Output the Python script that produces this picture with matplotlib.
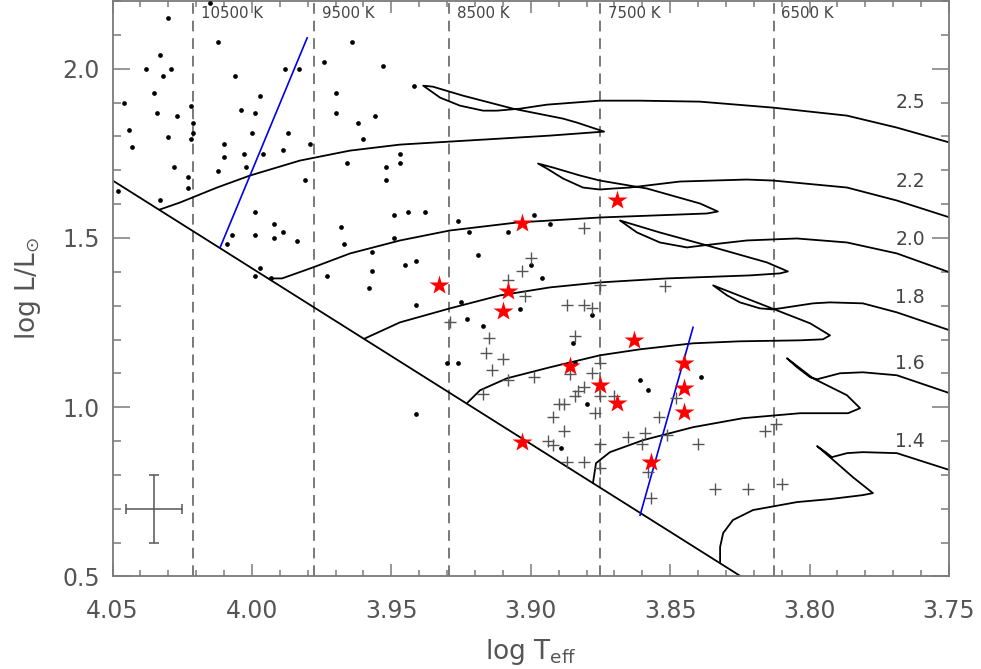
import numpy as np
import matplotlib
matplotlib.use("Agg")
import matplotlib.pyplot as plt

# ---------------- data (log Teff, log L/Lsun) ----------------
dots_teff = [4.030, 4.012, 4.015, 3.964, 4.038, 4.029, 4.033, 4.032, 4.006, 3.988,
             3.983, 3.974, 3.953, 4.035, 4.046, 4.022, 3.997, 4.004, 3.999, 4.034,
             4.027, 3.970, 3.970, 3.942, 4.044, 4.030, 4.021, 4.021, 4.022, 4.043,
             4.000, 3.987, 3.979, 3.962, 3.956, 3.960, 4.010, 4.010, 4.003, 3.996,
             3.989, 4.002, 4.012, 4.028, 4.023, 4.023, 4.048, 3.981, 3.966, 3.952,
             3.947, 3.947, 3.952, 4.033, 3.999, 3.992, 3.989, 3.992, 3.999, 4.007,
             4.009, 3.984, 3.968, 3.967, 3.949, 3.944, 3.938, 3.949, 3.957, 3.957,
             3.958, 3.945, 3.941, 3.973, 3.997, 3.999, 3.993, 3.926, 3.922, 3.908,
             3.899, 3.893, 3.919, 3.900, 3.896, 3.941, 3.925, 3.904, 3.923, 3.917,
             3.878, 3.885, 3.930, 3.926, 3.884, 3.941, 3.880, 3.889, 3.861, 3.858,
             3.839]
dots_logl = [2.150, 2.080, 2.195, 2.080, 2.000, 2.000, 2.041, 1.979, 1.979, 2.000,
             2.000, 2.021, 2.009, 1.929, 1.900, 1.891, 1.920, 1.879, 1.870, 1.870,
             1.861, 1.929, 1.870, 1.950, 1.820, 1.799, 1.841, 1.811, 1.791, 1.770,
             1.811, 1.811, 1.779, 1.841, 1.861, 1.791, 1.779, 1.740, 1.749, 1.749,
             1.761, 1.711, 1.699, 1.711, 1.679, 1.649, 1.640, 1.670, 1.720, 1.711,
             1.749, 1.720, 1.670, 1.611, 1.578, 1.540, 1.519, 1.501, 1.510, 1.510,
             1.481, 1.490, 1.531, 1.481, 1.569, 1.578, 1.578, 1.501, 1.460, 1.401,
             1.351, 1.419, 1.431, 1.389, 1.410, 1.389, 1.381, 1.549, 1.519, 1.519,
             1.569, 1.540, 1.451, 1.419, 1.381, 1.301, 1.310, 1.289, 1.260, 1.239,
             1.271, 1.189, 1.130, 1.130, 1.130, 0.979, 1.009, 0.879, 1.080, 1.050,
             1.088]

plus_teff = [3.881, 3.900, 3.903, 3.908, 3.902, 3.875, 3.852, 3.887, 3.881, 3.878,
             3.929, 3.915, 3.884, 3.916, 3.910, 3.914, 3.908, 3.899, 3.886, 3.878,
             3.875, 3.917, 3.881, 3.883, 3.884, 3.875, 3.870, 3.890, 3.888, 3.877,
             3.892, 3.888, 3.894, 3.892, 3.875, 3.887, 3.881, 3.875, 3.865, 3.859,
             3.860, 3.851, 3.840, 3.854, 3.848, 3.858, 3.857, 3.834, 3.822, 3.816,
             3.812, 3.810]
plus_logl = [1.528, 1.440, 1.401, 1.375, 1.330, 1.360, 1.357, 1.301, 1.301, 1.292,
             1.251, 1.204, 1.209, 1.159, 1.142, 1.109, 1.080, 1.088, 1.097, 1.100,
             1.130, 1.038, 1.059, 1.047, 1.032, 1.032, 1.032, 1.009, 1.009, 0.982,
             0.971, 0.929, 0.900, 0.888, 0.891, 0.838, 0.838, 0.820, 0.912, 0.923,
             0.891, 0.917, 0.891, 0.971, 1.027, 0.808, 0.732, 0.758, 0.758, 0.929,
             0.950, 0.773]

star_teff = [3.869, 3.903, 3.933, 3.908, 3.910, 3.863, 3.886, 3.845, 3.875, 3.869,
             3.845, 3.845, 3.903, 3.857]
star_logl = [1.611, 1.543, 1.360, 1.342, 1.283, 1.198, 1.121, 1.130, 1.065, 1.012,
             1.056, 0.985, 0.897, 0.838]

# evolutionary tracks
track_25_teff = [4.0330, 4.0258, 4.0125, 4.0007, 3.9828, 3.9648, 3.9469, 3.9290, 3.9110, 3.8931,
                 3.8787, 3.8737, 3.8834, 3.8884, 3.9064, 3.9243, 3.9351, 3.9386, 3.9325, 3.9254,
                 3.9171, 3.9121, 3.9038, 3.8942, 3.8752, 3.8608, 3.8393, 3.8131, 3.7866, 3.7687,
                 3.7497]
track_25_logl = [1.5841, 1.6047, 1.6490, 1.6844, 1.7286, 1.7581, 1.7758, 1.7847, 1.7935, 1.8024,
                 1.8112, 1.8142, 1.8407, 1.8525, 1.8820, 1.9204, 1.9469, 1.9499, 1.9145, 1.8909,
                 1.8761, 1.8761, 1.8820, 1.8938, 1.9056, 1.9056, 1.9027, 1.8850, 1.8614, 1.8260,
                 1.7817]
track_22_teff = [3.9935, 3.9892, 3.9781, 3.9648, 3.9469, 3.9290, 3.9049, 3.8752, 3.8465, 3.8368,
                 3.8329, 3.8393, 3.8583, 3.8752, 3.8823, 3.8920, 3.8974, 3.8942, 3.8884, 3.8813,
                 3.8752, 3.8705, 3.8644, 3.8465, 3.8225, 3.8131, 3.7866, 3.7687, 3.7497]
track_22_logl = [1.3805, 1.3805, 1.4130, 1.4543, 1.4926, 1.5221, 1.5457, 1.5605, 1.5693, 1.5723,
                 1.5782, 1.6018, 1.6460, 1.6696, 1.6844, 1.7080, 1.7198, 1.7050, 1.6755, 1.6490,
                 1.6431, 1.6460, 1.6490, 1.6667, 1.6726, 1.6696, 1.6490, 1.6106, 1.5605]
track_20_teff = [3.9594, 3.9469, 3.9290, 3.9110, 3.8931, 3.8752, 3.8512, 3.8214, 3.8107, 3.8078,
                 3.8153, 3.8368, 3.8537, 3.8680, 3.8619, 3.8537, 3.8440, 3.8383, 3.8225, 3.8046,
                 3.7866, 3.7687, 3.7497]
track_20_logl = [1.2035, 1.2507, 1.2920, 1.3304, 1.3540, 1.3687, 1.3805, 1.3894, 1.3953, 1.4012,
                 1.4277, 1.4779, 1.5162, 1.5516, 1.5162, 1.4867, 1.4720, 1.4779, 1.4926, 1.4985,
                 1.4867, 1.4543, 1.3982]
track_18_teff = [3.9229, 3.9182, 3.9085, 3.8931, 3.8752, 3.8608, 3.8418, 3.8250, 3.8034, 3.7952,
                 3.7927, 3.7998, 3.8117, 3.8346, 3.8296, 3.8250, 3.8178, 3.8135, 3.8106, 3.7988,
                 3.7927, 3.7809, 3.7687, 3.7497]
track_18_logl = [1.0118, 1.0501, 1.0855, 1.1180, 1.1534, 1.1711, 1.1888, 1.1947, 1.1976, 1.2006,
                 1.2124, 1.2478, 1.2861, 1.3599, 1.3304, 1.3097, 1.2920, 1.2891, 1.2920, 1.3068,
                 1.3097, 1.3068, 1.2802, 1.2271]
track_16_teff = [3.8777, 3.8766, 3.8716, 3.8597, 3.8418, 3.8239, 3.8034, 3.7862, 3.7819, 3.7866,
                 3.7988, 3.8081, 3.8045, 3.7998, 3.7973, 3.7891, 3.7809, 3.7687, 3.7497]
track_16_logl = [0.7758, 0.8348, 0.8673, 0.9027, 0.9410, 0.9676, 0.9823, 0.9823, 0.9971, 1.0354,
                 1.0855, 1.1445, 1.1180, 1.0885, 1.0826, 1.1003, 1.1032, 1.0944, 1.0413]
track_14_teff = [3.8321, 3.8321, 3.8310, 3.8275, 3.8203, 3.8045, 3.7927, 3.7809, 3.7773, 3.7845,
                 3.7927, 3.7973, 3.7938, 3.7920, 3.7866, 3.7809, 3.7687, 3.7497]
track_14_logl = [0.5428, 0.5870, 0.6283, 0.6667, 0.6962, 0.7198, 0.7286, 0.7404, 0.7463, 0.7935,
                 0.8525, 0.8850, 0.8643, 0.8525, 0.8643, 0.8673, 0.8643, 0.8142]

track_masses = ["2.5", "2.2", "2.0", "1.8", "1.6", "1.4"]
track_label_logl = [1.900, 1.667, 1.495, 1.325, 1.128, 0.900]
track_label_teff = 3.764

zams_teff = [4.05, 3.824]
zams_logl = [1.670, 0.497]

blue1_teff = [4.0114, 3.9802]
blue1_logl = [1.472, 2.091]
blue2_teff = [3.8608, 3.8418]
blue2_logl = [0.681, 1.236]

temps_k = [10500, 9500, 8500, 7500, 6500]
temp_labels = ["10500 K", "9500 K", "8500 K", "7500 K", "6500 K"]

err_teff, err_logl = 4.035, 0.70
err_dteff, err_dlogl = 0.01, 0.10

# ---------------- figure ----------------
GRAY = "#7a7a7a"
fig = plt.figure(figsize=(9.81, 6.69), dpi=100)
ax = fig.add_axes([0.1147, 0.1383, 0.8527, 0.8602])

ax.set_xlim(4.05, 3.75)
ax.set_ylim(0.5, 2.2)

# dashed isotherms
for tk, lab in zip(temps_k, temp_labels):
    lt = np.log10(tk)
    ax.axvline(lt, color="#555555", lw=1.1, dashes=(7, 4.5), zorder=1)
    ax.text(lt - 0.0028, 2.163, lab, ha="left", va="center", fontsize=10.8,
            color="#444444")

# tracks
tracks = [(track_25_teff, track_25_logl), (track_22_teff, track_22_logl),
          (track_20_teff, track_20_logl), (track_18_teff, track_18_logl),
          (track_16_teff, track_16_logl), (track_14_teff, track_14_logl)]
for tt, ll in tracks:
    ax.plot(tt, ll, color="black", lw=1.3, zorder=2, solid_joinstyle="round")

ax.plot(zams_teff, zams_logl, color="black", lw=1.3, zorder=2)

for m, yl in zip(track_masses, track_label_logl):
    ax.text(track_label_teff, yl, m, ha="center", va="center", fontsize=13.5,
            color="#444444")

# instability strip edges
ax.plot(blue1_teff, blue1_logl, color="#0000ee", lw=1.2, zorder=3)
ax.plot(blue2_teff, blue2_logl, color="#0000ee", lw=1.2, zorder=3)

# stars
ax.plot(dots_teff, dots_logl, "o", color="black", ms=3.4, mec="none", zorder=4)
ax.plot(plus_teff, plus_logl, "+", color="#555555", ms=9, mew=1.0, zorder=4)
ax.plot(star_teff, star_logl, "*", color="#ff0000", ms=15, mec="none", zorder=5)

# typical error bar
ax.errorbar(err_teff, err_logl, xerr=err_dteff, yerr=err_dlogl, fmt="none",
            ecolor="#555555", elinewidth=1.1, capsize=3.5, capthick=1.1)

# axes styling
ax.set_xticks([4.05, 4.00, 3.95, 3.90, 3.85, 3.80, 3.75])
ax.set_xticklabels(["4.05", "4.00", "3.95", "3.90", "3.85", "3.80", "3.75"])
ax.set_xticks(np.arange(3.75, 4.0501, 0.01), minor=True)
ax.set_yticks([0.5, 1.0, 1.5, 2.0])
ax.set_yticklabels(["0.5", "1.0", "1.5", "2.0"])
ax.set_yticks(np.arange(0.5, 2.21, 0.1), minor=True)

ax.tick_params(axis="both", which="both", direction="in", top=True, right=True,
               color=GRAY, width=1.1)
ax.tick_params(axis="x", which="major", length=8.6, pad=16, labelsize=17,
               labelcolor="#555555")
ax.tick_params(axis="x", which="minor", length=4.3)
ax.tick_params(axis="y", which="major", length=12, pad=9, labelsize=17,
               labelcolor="#555555")
ax.tick_params(axis="y", which="minor", length=6)
for sp in ax.spines.values():
    sp.set_color(GRAY)
    sp.set_linewidth(1.3)

ax.set_xlabel(r"log T$_{\rm eff}$", fontsize=19, color="#555555", labelpad=10)
ax.set_ylabel(r"log L/L$_{\odot}$", fontsize=19, color="#555555", labelpad=14)

fig.savefig("out.png", dpi=100)
